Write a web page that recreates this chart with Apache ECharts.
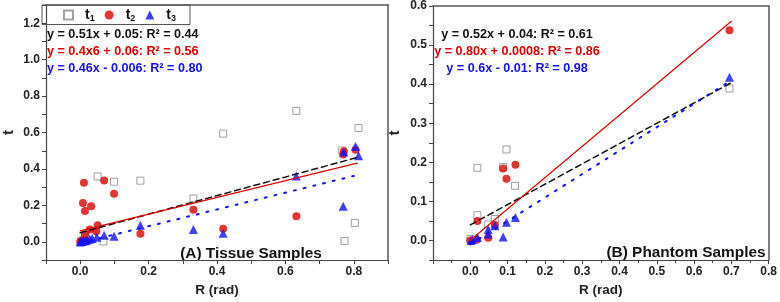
<!DOCTYPE html>
<html><head><meta charset="utf-8">
<script src="https://cdn.jsdelivr.net/npm/echarts@6/dist/echarts.min.js"></script>
<style>html,body{margin:0;padding:0;background:#fff}#c{width:780px;height:302px}</style>
</head><body><div id="c"></div>
<script>
// ---- Data ----
const seriesNames = ['t1', 't2', 't3'];
// (A) Tissue samples
const tissueT1X = [0.002, 0.010, 0.020, 0.035, 0.051, 0.068, 0.099, 0.176, 0.331, 0.418, 0.632, 0.766, 0.773, 0.803, 0.814];
const tissueT1Y = [0.003, 0.012, 0.025, 0.040, 0.359, 0.002, 0.330, 0.336, 0.238, 0.594, 0.719, 0.502, 0.005, 0.104, 0.625];
const tissueT2X = [0.000, 0.005, 0.011, 0.008, 0.014, 0.032, 0.070, 0.099, 0.051, 0.028, 0.047, 0.014, 0.018, 0.176, 0.331, 0.418, 0.632, 0.769, 0.771, 0.805];
const tissueT2Y = [0.000, 0.008, 0.325, 0.214, 0.170, 0.196, 0.337, 0.264, 0.091, 0.068, 0.059, 0.041, 0.003, 0.045, 0.177, 0.072, 0.141, 0.479, 0.498, 0.505];
const tissueT3X = [0.000, 0.003, 0.006, 0.010, 0.015, 0.020, 0.028, 0.035, 0.049, 0.070, 0.099, 0.176, 0.331, 0.418, 0.632, 0.769, 0.771, 0.805, 0.814];
const tissueT3Y = [0.000, 0.004, 0.002, 0.008, 0.006, 0.010, 0.015, 0.018, 0.025, 0.037, 0.031, 0.091, 0.068, 0.047, 0.362, 0.196, 0.493, 0.523, 0.473];
const tissueFitSlope = [0.51, 0.46, 0.46];
const tissueFitIntercept = [0.05, 0.06, -0.006];
const tissueFitXEnd = [0.815, 0.81, 0.80];
const tissueEquations = ['y = 0.51x + 0.05: R² = 0.44', 'y = 0.4x6 + 0.06: R² = 0.56', 'y = 0.46x - 0.006: R² = 0.80'];
// (B) Phantom samples
const phantomT1X = [0.000, 0.019, 0.019, 0.048, 0.066, 0.088, 0.097, 0.120, 0.695];
const phantomT1Y = [0.004, 0.186, 0.065, 0.041, 0.055, 0.188, 0.233, 0.140, 0.389];
const phantomT2X = [0.000, 0.017, 0.019, 0.048, 0.066, 0.088, 0.097, 0.121, 0.695];
const phantomT2Y = [0.000, 0.002, 0.050, 0.007, 0.040, 0.184, 0.158, 0.194, 0.538];
const phantomT3X = [0.002, 0.006, 0.019, 0.048, 0.048, 0.066, 0.088, 0.097, 0.121, 0.695];
const phantomT3Y = [0.000, 0.003, 0.008, 0.017, 0.028, 0.038, 0.009, 0.047, 0.059, 0.418];
const phantomFitSlope = [0.52, 0.80, 0.60];
const phantomFitIntercept = [0.04, 0.0008, -0.01];
const phantomFitXEnd = [0.70, 0.70, 0.70];
const phantomEquations = ['y = 0.52x + 0.04: R² = 0.61', 'y = 0.80x + 0.0008: R² = 0.86', 'y = 0.6x - 0.01: R² = 0.98'];
const panelTitles = ['(A) Tissue Samples', '(B) Phantom Samples'];
const xAxisTitle = 'R (rad)';
const yAxisTitle = 't';

// ---- Styles ----
const FONT = '"Liberation Sans", Arial, sans-serif';
const colors = ['#111111', '#e00000', '#1010ff'];
const lineTypes = [[6, 4], 'solid', [2, 8]];
const lineWidths = [1.5, 1.2, 2];

function zip(xs, ys) { return xs.map((x, i) => [x, ys[i]]); }
function fitLine(s, b, xe) { return [[0, b], [xe, s * xe + b]]; }

function scatterSeries(idx, data) {
  const base = { type: 'scatter', xAxisIndex: idx, yAxisIndex: idx, animation: false };
  return [
    Object.assign({}, base, { name: 't1', data: data[0], symbol: 'rect', symbolSize: 7, z: 2,
      itemStyle: { color: '#ffffff', borderColor: '#8a8a8a', borderWidth: 1 } }),
    Object.assign({}, base, { name: 't2', data: data[1], symbol: 'circle', symbolSize: 8, z: 3,
      itemStyle: { color: '#e00000' } }),
    Object.assign({}, base, { name: 't3', data: data[2], symbol: 'triangle', symbolSize: 9, z: 4,
      itemStyle: { color: '#1010ff' } })
  ];
}
function fitSeries(idx, slopes, inters, ends) {
  return slopes.map((s, i) => ({
    type: 'line', name: 'fit' + idx + '_' + i, xAxisIndex: idx, yAxisIndex: idx,
    data: fitLine(s, inters[i], ends[i]), showSymbol: false, symbol: 'none', animation: false, z: 5,
    lineStyle: { color: colors[i], type: lineTypes[i], width: lineWidths[i], cap: 'round' }
  }));
}
function fmtLabel(step, minShown) {
  return function (v) {
    const k = Math.round(v / step);
    if (Math.abs(v - k * step) > 1e-6 || v < minShown - 1e-9) return '';
    return v.toFixed(1);
  };
}
const labelStyle = { fontFamily: FONT, fontWeight: 'bold', fontSize: 12, color: '#222', margin: 6 };
const axisLineStyle = { onZero: false, lineStyle: { color: '#444', width: 1.2 } };
function xAxis(idx, min, max, interval, labelStep, minor) {
  return {
    type: 'value', gridIndex: idx, min: min, max: max, interval: interval, position: 'bottom',
    name: xAxisTitle, nameLocation: 'middle', nameGap: 18,
    nameTextStyle: { fontFamily: FONT, fontWeight: 'bold', fontSize: 13.5, color: '#222', verticalAlign: 'top' },
    axisLine: axisLineStyle, axisTick: { show: true, inside: false, length: 4, lineStyle: { color: '#444' } },
    minorTick: { show: minor, splitNumber: 2, length: 3, lineStyle: { color: '#444' } },
    axisLabel: Object.assign({ formatter: fmtLabel(labelStep, 0), showMinLabel: true, showMaxLabel: true }, labelStyle),
    splitLine: { show: false }
  };
}
function yAxis(idx, min, max, interval, labelStep, gap) {
  return {
    type: 'value', gridIndex: idx, min: min, max: max, interval: interval, position: 'left',
    name: yAxisTitle, nameLocation: 'middle', nameGap: gap,
    nameTextStyle: { fontFamily: FONT, fontWeight: 'bold', fontSize: 15, color: '#222' },
    axisLine: axisLineStyle, axisTick: { show: true, inside: false, length: 4, lineStyle: { color: '#444' } },
    axisLabel: Object.assign({ formatter: fmtLabel(labelStep, 0) }, labelStyle),
    splitLine: { show: false }
  };
}
// mirror axes for box frame
function frameX(idx, min, max) {
  return { type: 'value', gridIndex: idx, position: 'top', min: min, max: max,
    axisLine: { show: true, onZero: false, lineStyle: { color: '#555', width: 1.5 } },
    axisTick: { show: false }, axisLabel: { show: false }, splitLine: { show: false } };
}
function frameY(idx, min, max) {
  return { type: 'value', gridIndex: idx, position: 'right', min: min, max: max,
    axisLine: { show: true, onZero: false, lineStyle: { color: '#555', width: 1.5 } },
    axisTick: { show: false }, axisLabel: { show: false }, splitLine: { show: false } };
}

const chart = echarts.init(document.getElementById('c'), null, { renderer: 'canvas' });

const texts = [];
tissueEquations.forEach((t, i) => texts.push({ type: 'text', x: 47, y: 35 + i * 16.7, silent: true,
  style: { text: t, font: 'bold 12.6px ' + FONT, fill: colors[i], textAlign: 'left', align: 'left', textVerticalAlign: 'middle', verticalAlign: 'middle' } }));
phantomEquations.forEach((t, i) => texts.push({ type: 'text', x: 517, y: 34.5 + i * 16.8, silent: true,
  style: { text: t, font: 'bold 12.6px ' + FONT, fill: colors[i], textAlign: 'center', align: 'center', textVerticalAlign: 'middle', verticalAlign: 'middle' } }));
texts.push({ type: 'text', x: 251, y: 253.5, silent: true,
  style: { text: panelTitles[0], font: 'bold 15.4px ' + FONT, fill: '#111', textAlign: 'center', align: 'center', textVerticalAlign: 'middle', verticalAlign: 'middle' } });
texts.push({ type: 'text', x: 686, y: 252.5, silent: true,
  style: { text: panelTitles[1], font: 'bold 15.4px ' + FONT, fill: '#111', textAlign: 'center', align: 'center', textVerticalAlign: 'middle', verticalAlign: 'middle' } });

const option = {
  animation: false,
  backgroundColor: '#fff',
  grid: [
    { left: 42, top: 5, width: 346, height: 261.5, containLabel: false },
    { left: 433, top: 6, width: 338, height: 260, containLabel: false }
  ],
  xAxis: [
    xAxis(0, -0.1, 0.9, 0.1, 0.2, false),
    xAxis(1, -0.1, 0.8, 0.1, 0.1, true),
    frameX(0, -0.1, 0.9),
    frameX(1, -0.1, 0.8)
  ],
  yAxis: [
    yAxis(0, -0.1, 1.3, 0.1, 0.2, 30),
    yAxis(1, -0.05, 0.6, 0.05, 0.1, 31),
    frameY(0, -0.1, 1.3),
    frameY(1, -0.05, 0.6)
  ],
  legend: {
    data: seriesNames, left: 42, top: 5, width: 147, height: 18,
    borderColor: '#555', borderWidth: 1, padding: [3, 14, 1, 21],
    itemWidth: 9, itemHeight: 9, itemGap: 10,
    formatter: n => '{b|t}{s|' + n.slice(1) + '}',
    textStyle: { rich: {
      b: { fontFamily: FONT, fontWeight: 'bold', fontSize: 14, color: '#111', padding: [0, 0, 0, 7] },
      s: { fontFamily: FONT, fontWeight: 'bold', fontSize: 9, color: '#111', padding: [8, 0, 0, 0] }
    } },
    selectedMode: false
  },
  graphic: texts,
  series: [].concat(
    scatterSeries(0, [zip(tissueT1X, tissueT1Y), zip(tissueT2X, tissueT2Y), zip(tissueT3X, tissueT3Y)]),
    fitSeries(0, tissueFitSlope, tissueFitIntercept, tissueFitXEnd),
    scatterSeries(1, [zip(phantomT1X, phantomT1Y), zip(phantomT2X, phantomT2Y), zip(phantomT3X, phantomT3Y)]),
    fitSeries(1, phantomFitSlope, phantomFitIntercept, phantomFitXEnd)
  )
};
chart.setOption(option);
</script></body></html>
